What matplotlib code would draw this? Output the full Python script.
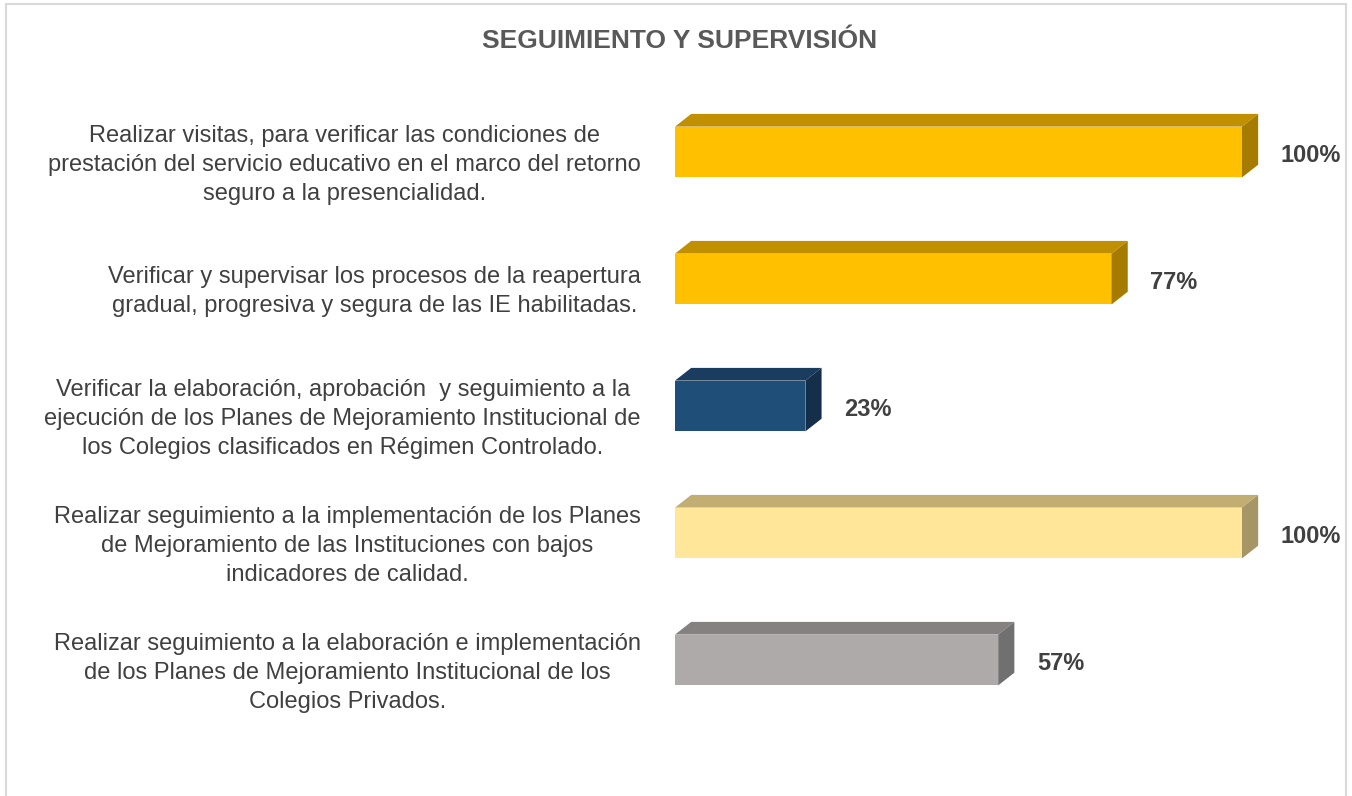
import matplotlib.pyplot as plt
from matplotlib.patches import Polygon, Rectangle

plt.rcParams['font.family'] = ['Liberation Sans', 'DejaVu Sans']

# ---- data ----
labels = [
    'Realizar visitas, para verificar las condiciones de\nprestación del servicio educativo en el marco del retorno\nseguro a la presencialidad.',
    'Verificar y supervisar los procesos de la reapertura\ngradual, progresiva y segura de las IE habilitadas.',
    'Verificar la elaboración, aprobación  y seguimiento a la\nejecución de los Planes de Mejoramiento Institucional de\nlos Colegios clasificados en Régimen Controlado.',
    'Realizar seguimiento a la implementación de los Planes\nde Mejoramiento de las Instituciones con bajos\nindicadores de calidad.',
    'Realizar seguimiento a la elaboración e implementación\nde los Planes de Mejoramiento Institucional de los\nColegios Privados.',
]
values = [100, 77, 23, 100, 57]
front_colors = ['#FFC000', '#FFC000', '#1F4E79', '#FFE699', '#AEAAAA']
top_colors = ['#C09000', '#C09000', '#1A3C5E', '#C2AE73', '#858181']
side_colors = ['#A67C00', '#A67C00', '#152F4A', '#A69565', '#717070']

fig = plt.figure(figsize=(13.52, 7.96), dpi=100)
ax = fig.add_axes([0, 0, 1, 1])
ax.set_xlim(-119.05, 119.4)
ax.set_ylim(5.071, -1.197)
ax.axis('off')

h = 0.40     # bar thickness
dx = 2.85    # depth in x units
dy = 0.10    # depth in y units

for i, v in enumerate(values):
    ax.barh(i, v, height=h, color=front_colors[i], edgecolor='none', zorder=3)
    top = [(0, i - h / 2), (v, i - h / 2), (v + dx, i - h / 2 - dy), (dx, i - h / 2 - dy)]
    side = [(v, i - h / 2), (v + dx, i - h / 2 - dy), (v + dx, i + h / 2 - dy), (v, i + h / 2)]
    ax.add_patch(Polygon(top, closed=True, facecolor=top_colors[i], edgecolor='none', zorder=3))
    ax.add_patch(Polygon(side, closed=True, facecolor=side_colors[i], edgecolor='none', zorder=3))
    ax.text(v + dx + 4.0, i + 0.03, '%d%%' % v, ha='left', va='center',
            fontsize=17, fontweight='bold', color='#404040')
    ax.text(-6, i + 0.1, labels[i], ha='right', va='center', multialignment='center',
            fontsize=17, color='#404040', linespacing=1.42)

fig.text(680 / 1352, 1 - 41 / 796, 'SEGUIMIENTO Y SUPERVISIÓN', ha='center', va='center',
         fontsize=19, fontweight='bold', color='#595959')

# chart border
fig.patches.append(Rectangle((6 / 1352, -0.01), 1340 / 1352, 1 - 4 / 796 + 0.01,
                             transform=fig.transFigure, fill=False,
                             edgecolor='#D9D9D9', linewidth=1.5))

fig.savefig('out.png', dpi=100)
